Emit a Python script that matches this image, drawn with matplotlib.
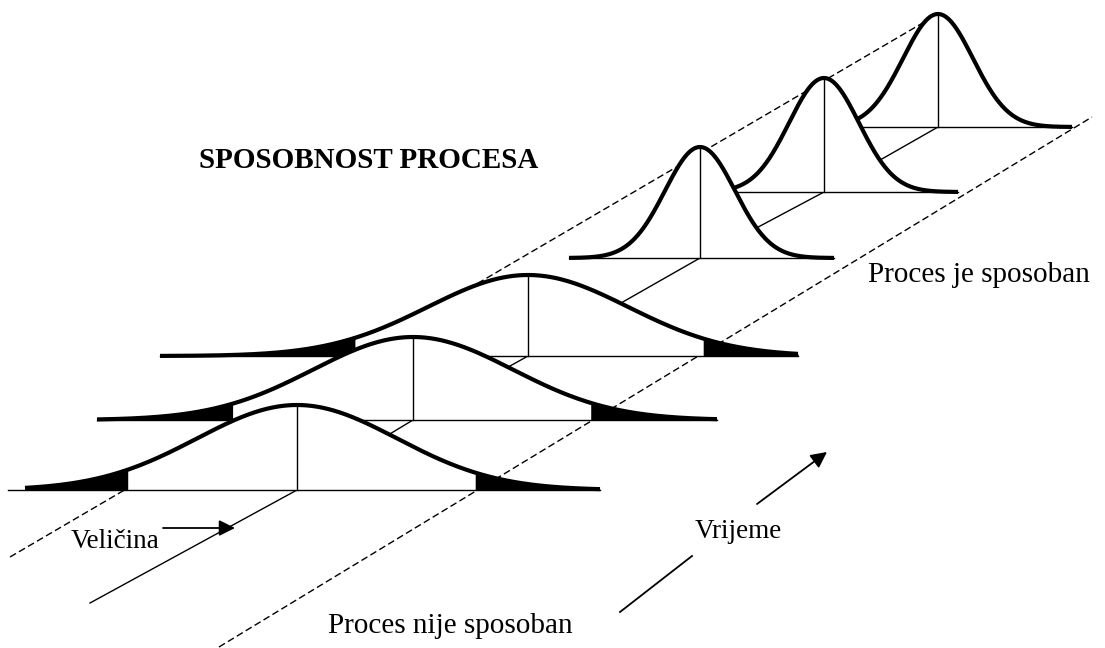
import numpy as np
import matplotlib
matplotlib.use('Agg')
import matplotlib.pyplot as plt

plt.rcParams['font.family'] = ['Liberation Serif', 'DejaVu Serif']

# Sirine raspodjele - proces nije sposoban (od prednje prema straznjoj)
siroke_centar = [297, 413, 528]
siroke_baza = [490, 420, 356]
siroke_visina = [85, 83, 81]
siroke_pocetak = [25, 97, 160]
siroke_kraj = [600, 717, 798]
siroke_linija_od = [8, 97, 160]
siroke_lsl = [128, 233, 355]
siroke_usl = [475, 590, 703]
siroke_sigma = 100

# Uske raspodjele - proces je sposoban (od prednje prema straznjoj)
uske_centar = [700, 824, 938]
uske_baza = [258, 192, 127]
uske_visina = [111, 114, 113]
uske_pocetak = [569, 690, 804]
uske_kraj = [834, 958, 1072]
uske_sigma = 35

# Os vremena kroz sredista i granice tolerancije
os_pocetak = (90, 603)
gornja_granica = [(10, 557), (938, 14)]
donja_granica = [(219, 647), (1092, 117)]


def krivulja(ax, c, baza, vis, sigma, x0, x1, lin_od, z, lsl=None, usl=None):
    x = np.linspace(x0, x1, 600)
    y = baza - vis * np.exp(-(x - c) ** 2 / (2 * sigma ** 2))
    ax.fill_between(x, y, baza, color='white', lw=0, zorder=z)
    if lsl is not None:
        ax.fill_between(x, y, baza, where=x <= lsl, color='black', lw=0, zorder=z + 0.1)
        ax.fill_between(x, y, baza, where=x >= usl, color='black', lw=0, zorder=z + 0.1)
    ax.plot([lin_od, x1], [baza, baza], color='black', lw=1.0, zorder=z + 0.1)
    ax.plot([c, c], [baza - vis, baza], color='black', lw=1.0, zorder=z + 0.1)
    ax.plot(x, y, color='black', lw=3.0, solid_capstyle='butt', zorder=z + 0.2)


fig = plt.figure(figsize=(11.05, 6.48), dpi=100)
ax = fig.add_axes([0, 0, 1, 1])
ax.set_xlim(0, 1105)
ax.set_ylim(648, 0)
ax.axis('off')

# os kroz sredista
os_x = [os_pocetak[0]] + siroke_centar + uske_centar
os_y = [os_pocetak[1]] + siroke_baza + uske_baza
ax.plot(os_x, os_y, color='black', lw=1.0, zorder=1)

# granice tolerancije (isprekidane)
for gr in [gornja_granica, donja_granica]:
    ax.plot([gr[0][0], gr[1][0]], [gr[0][1], gr[1][1]], color='black', lw=1.0,
            dashes=(5, 2.5), zorder=1)

# crtanje od straznje prema prednjoj
z = 2
for i in reversed(range(len(uske_centar))):
    krivulja(ax, uske_centar[i], uske_baza[i], uske_visina[i], uske_sigma,
             uske_pocetak[i], uske_kraj[i], uske_pocetak[i], z)
    z += 1
for i in reversed(range(len(siroke_centar))):
    krivulja(ax, siroke_centar[i], siroke_baza[i], siroke_visina[i], siroke_sigma,
             siroke_pocetak[i], siroke_kraj[i], siroke_linija_od[i], z,
             siroke_lsl[i], siroke_usl[i])
    z += 1

# strelice
ax.annotate('', xy=(235, 528), xytext=(163, 528),
            arrowprops=dict(arrowstyle='-|>', color='black', lw=1.3,
                            mutation_scale=24, shrinkA=0, shrinkB=0))
ax.plot([620, 692], [612, 556], color='black', lw=1.3)
ax.annotate('', xy=(827, 452), xytext=(757, 504),
            arrowprops=dict(arrowstyle='-|>', color='black', lw=1.3,
                            mutation_scale=24, shrinkA=0, shrinkB=0))

# tekstovi
ax.text(369, 168, 'SPOSOBNOST PROCESA', fontsize=21, fontweight='bold',
        ha='center', va='baseline')
ax.text(979, 282, 'Proces je sposoban', fontsize=21, ha='center', va='baseline')
ax.text(450, 633, 'Proces nije sposoban', fontsize=21, ha='center', va='baseline')
ax.text(115, 548, 'Veličina', fontsize=19.5, ha='center', va='baseline')
ax.text(738, 538, 'Vrijeme', fontsize=19.5, ha='center', va='baseline')

fig.savefig('out.png', dpi=100, facecolor='white')
